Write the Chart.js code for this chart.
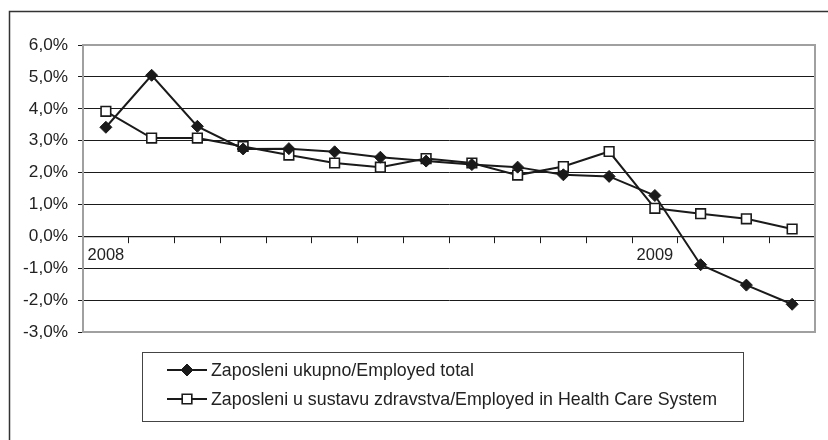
<!DOCTYPE html>
<html lang="hr">
<head>
    <meta charset="UTF-8">
    <title>Zaposleni 2008-2009</title>
    <style>
        body {
            margin: 0;
            padding: 0;
            background: #ffffff;
        }
        #wrap {
            width: 828px;
            height: 440px;
        }
    </style>
</head>
<body>
    <div id="wrap">
        <canvas id="chart" width="828" height="440"></canvas>
    </div>

    <script src="https://cdn.jsdelivr.net/npm/chart.js"></script>
    <script>
        // months I.2008 - IV.2009
        const months = ['01/2008', '02/2008', '03/2008', '04/2008', '05/2008', '06/2008', '07/2008', '08/2008',
                        '09/2008', '10/2008', '11/2008', '12/2008', '01/2009', '02/2009', '03/2009', '04/2009'];
        const xTickLabels = ['2008', '', '', '', '', '', '', '', '', '', '', '', '2009', '', '', ''];

        const employedTotal = [3.42, 5.05, 3.45, 2.74, 2.75, 2.65, 2.48, 2.36, 2.25, 2.17, 1.93, 1.88, 1.28, -0.89, -1.53, -2.13];
        const employedHealth = [3.92, 3.08, 3.08, 2.82, 2.55, 2.30, 2.17, 2.44, 2.30, 1.92, 2.19, 2.66, 0.88, 0.71, 0.55, 0.23];

        const seriesNames = ['Zaposleni ukupno/Employed total', 'Zaposleni u sustavu zdravstva/Employed in Health Care System'];

        const FONT = "'Liberation Sans', Arial, sans-serif";
        const INK = '#1a1a1a';
        const GREY = '#a0a0a0';

        // outer frame, plot border and the legend box
        const decor = {
            id: 'decor',
            beforeDraw(chart) {
                const ctx = chart.ctx;
                ctx.save();
                ctx.strokeStyle = '#333';
                ctx.lineWidth = 1.5;
                ctx.beginPath();
                ctx.moveTo(9.5, 440);
                ctx.lineTo(9.5, 11.5);
                ctx.lineTo(828, 11.5);
                ctx.stroke();
                ctx.restore();
            },
            beforeDatasetsDraw(chart) {
                const a = chart.chartArea;
                const ctx = chart.ctx;
                ctx.save();
                ctx.strokeStyle = GREY;
                ctx.lineWidth = 2;
                ctx.strokeRect(a.left, a.top, a.right - a.left, a.bottom - a.top);
                ctx.restore();
            },
            afterDraw(chart) {
                const ctx = chart.ctx;
                ctx.save();
                ctx.strokeStyle = '#444';
                ctx.lineWidth = 1;
                ctx.strokeRect(142.5, 352.5, 601, 69);

                const rows = [370, 399];
                chart.data.datasets.forEach((ds, i) => {
                    const y = rows[i];
                    ctx.strokeStyle = INK;
                    ctx.lineWidth = 2;
                    ctx.beginPath();
                    ctx.moveTo(167, y);
                    ctx.lineTo(207, y);
                    ctx.stroke();

                    ctx.fillStyle = ds.pointBackgroundColor;
                    ctx.lineWidth = ds.pointBorderWidth;
                    ctx.beginPath();
                    if (ds.pointStyle === 'rectRot') {
                        const r = ds.pointRadius;
                        ctx.moveTo(187, y - r);
                        ctx.lineTo(187 + r, y);
                        ctx.lineTo(187, y + r);
                        ctx.lineTo(187 - r, y);
                        ctx.closePath();
                    } else {
                        const h = ds.pointRadius * Math.SQRT1_2;
                        ctx.rect(187 - h, y - h, 2 * h, 2 * h);
                    }
                    ctx.fill();
                    ctx.stroke();

                    ctx.fillStyle = '#222';
                    ctx.font = '17.8px ' + FONT;
                    ctx.textBaseline = 'middle';
                    ctx.textAlign = 'left';
                    ctx.fillText(ds.label, 211, y + 1);
                });
                ctx.restore();
            }
        };

        new Chart(document.getElementById('chart'), {
            type: 'line',
            data: {
                labels: months,
                datasets: [
                    {
                        label: seriesNames[0],
                        data: employedTotal,
                        borderColor: INK,
                        borderWidth: 2,
                        pointStyle: 'rectRot',
                        pointRadius: 6,
                        pointBorderWidth: 1,
                        pointBackgroundColor: INK,
                        pointBorderColor: INK,
                        tension: 0,
                        clip: false
                    },
                    {
                        label: seriesNames[1],
                        data: employedHealth,
                        borderColor: INK,
                        borderWidth: 2,
                        pointStyle: 'rect',
                        pointRadius: 6.8,
                        pointBorderWidth: 1.6,
                        pointBackgroundColor: '#ffffff',
                        pointBorderColor: INK,
                        tension: 0,
                        clip: false
                    }
                ]
            },
            options: {
                responsive: false,
                animation: false,
                layout: { padding: { left: 0, right: 13, top: 45, bottom: 108 } },
                plugins: {
                    legend: { display: false },
                    tooltip: { enabled: false }
                },
                scales: {
                    x: {
                        position: { y: 0 },
                        offset: true,
                        afterFit: scale => { scale.height = 0; },
                        grid: {
                            offset: true,
                            drawOnChartArea: false,
                            drawTicks: true,
                            tickLength: 6,
                            tickColor: INK,
                            tickWidth: 1
                        },
                        border: { display: true, color: INK, width: 1.2 },
                        ticks: {
                            autoSkip: false,
                            maxRotation: 0,
                            padding: 3,
                            color: '#222',
                            font: { family: FONT, size: 16.5 },
                            callback: (v, i) => xTickLabels[i]
                        }
                    },
                    y: {
                        min: -3,
                        max: 6,
                        afterFit: scale => { scale.width = 83; },
                        grid: {
                            color: ctx => (ctx.tick && (ctx.tick.value === 6 || ctx.tick.value === -3)) ? GREY : INK,
                            lineWidth: 1,
                            tickLength: 5,
                            tickColor: INK
                        },
                        border: { display: true, color: GREY, width: 2 },
                        ticks: {
                            stepSize: 1,
                            padding: 10,
                            color: '#222',
                            font: { family: FONT, size: 17.2 },
                            callback: v => v.toFixed(1).replace('.', ',') + '%'
                        }
                    }
                }
            },
            plugins: [decor]
        });
    </script>
</body>
</html>
